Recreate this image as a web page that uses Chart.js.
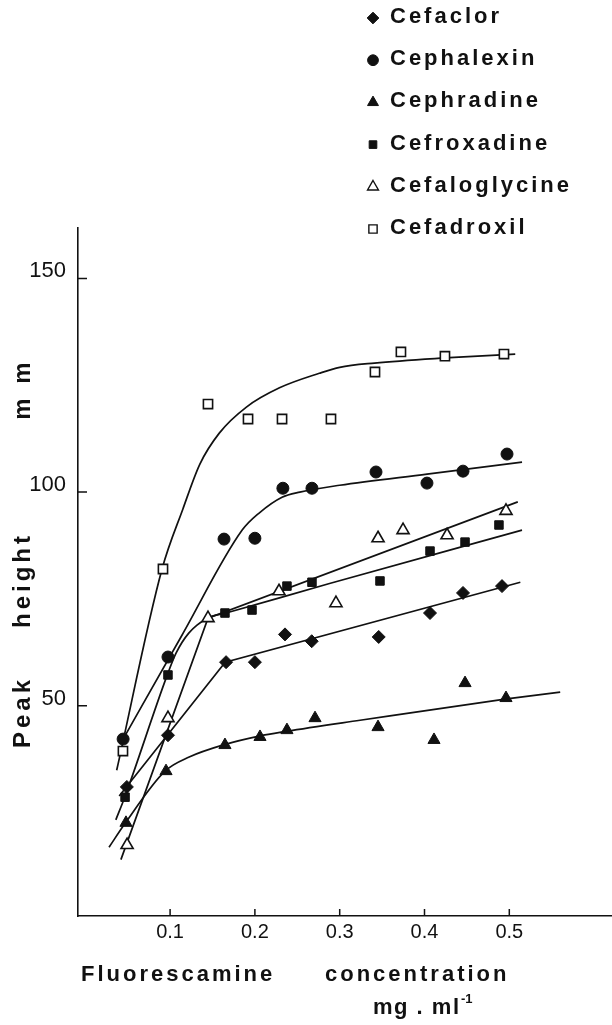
<!DOCTYPE html>
<html>
<head>
<meta charset="utf-8">
<script src="https://cdn.jsdelivr.net/npm/chart.js@4/dist/chart.umd.min.js"></script>
<style>
  html, body { margin: 0; padding: 0; background: #fff; }
  #wrap { width: 612px; height: 1025px; }
</style>
</head>
<body>
<div id="wrap"><canvas id="chart" width="612" height="1025"></canvas></div>
<script>
// series names, as in the legend
const seriesNames = ['Cefaclor', 'Cephalexin', 'Cephradine', 'Cefroxadine', 'Cefaloglycine', 'Cefadroxil'];

// measured points (x = fluorescamine mg/ml, y = peak height mm)
const cefaclorX = [0.049, 0.0975, 0.166, 0.200, 0.2355, 0.267, 0.346, 0.4065, 0.4454, 0.4914];
const cefaclorY = [31.0, 43.1, 60.2, 60.2, 66.7, 65.1, 66.1, 71.7, 76.4, 78.0];
const cephalexinX = [0.0446, 0.0975, 0.1636, 0.200, 0.233, 0.2673, 0.3428, 0.4029, 0.4454, 0.4973];
const cephalexinY = [42.2, 61.4, 89.0, 89.2, 100.9, 100.9, 104.7, 102.1, 104.9, 108.9];
const cephradineX = [0.048, 0.0952, 0.1647, 0.206, 0.2378, 0.2709, 0.3452, 0.4112, 0.4478, 0.4961];
const cephradineY = [22.6, 34.7, 40.8, 42.7, 44.3, 47.1, 45.0, 42.0, 55.3, 51.8];
const cefroxadineX = [0.0469, 0.0975, 0.1647, 0.1966, 0.2378, 0.2673, 0.3475, 0.4065, 0.4478, 0.4878];
const cefroxadineY = [28.6, 57.2, 71.7, 72.4, 78.0, 78.9, 79.2, 86.2, 88.3, 92.3];
const cefaloglycineX = [0.0493, 0.0975, 0.1447, 0.2284, 0.2956, 0.3452, 0.3747, 0.4266, 0.4961];
const cefaloglycineY = [17.4, 47.1, 70.5, 76.8, 74.0, 89.2, 91.1, 89.9, 95.6];
const cefadroxilX = [0.0444, 0.0916, 0.1447, 0.1919, 0.232, 0.2897, 0.3416, 0.3722, 0.4241, 0.4937];
const cefadroxilY = [39.4, 82.0, 120.6, 117.1, 117.1, 117.1, 128.1, 132.8, 131.8, 132.3];

// hand drawn fit curves
const cefaclorFitX = [0.040, 0.165, 0.513];
const cefaclorFitY = [28.9, 60.2, 78.9];
const cephalexinFitX = [0.0446, 0.114, 0.185, 0.205, 0.232, 0.253, 0.300, 0.403, 0.515];
const cephalexinFitY = [42.2, 66.5, 91.1, 95.1, 98.8, 100.0, 101.6, 104.2, 107.0];
const cephradineFitX = [0.028, 0.047, 0.094, 0.1225, 0.164, 0.205, 0.237, 0.324, 0.497, 0.560];
const cephradineFitY = [16.9, 22.5, 34.7, 38.0, 40.9, 42.9, 44.0, 46.6, 51.6, 53.2];
const cefroxadineFitX = [0.036, 0.0465, 0.0965, 0.107, 0.122, 0.144, 0.166, 0.288, 0.515];
const cefroxadineFitY = [23.3, 28.6, 57.1, 62.3, 67.0, 70.5, 71.7, 78.6, 91.1];
const cefaloglycineFitX = [0.042, 0.1447, 0.510];
const cefaloglycineFitY = [14.0, 70.5, 97.7];
const cefadroxilFitX = [0.037, 0.0905, 0.115, 0.135, 0.158, 0.190, 0.229, 0.276, 0.300, 0.341, 0.424, 0.507];
const cefadroxilFitY = [34.9, 82.0, 96.0, 106.5, 113.8, 119.9, 124.4, 127.8, 129.2, 130.2, 131.4, 132.3];

const xTicks = [0.1, 0.2, 0.3, 0.4, 0.5];
const yTicks = [50, 100, 150];

const INK = '#111';
const pts = (xs, ys) => xs.map((x, i) => ({ x: x, y: ys[i] }));

const markers = [
    { style: 'rectRot', radius: 6.5, fill: INK },
    { style: 'circle', radius: 6, fill: INK },
    { style: 'triangle', radius: 7, fill: INK },
    { style: 'rect', radius: 6, fill: INK },
    { style: 'triangle', radius: 7, fill: '#fff' },
    { style: 'rect', radius: 6.5, fill: '#fff' }
];

const pointSets = [
    pts(cefaclorX, cefaclorY), pts(cephalexinX, cephalexinY), pts(cephradineX, cephradineY),
    pts(cefroxadineX, cefroxadineY), pts(cefaloglycineX, cefaloglycineY), pts(cefadroxilX, cefadroxilY)
];
const fitSets = [
    { data: pts(cefaclorFitX, cefaclorFitY), smooth: false },
    { data: pts(cephalexinFitX, cephalexinFitY), smooth: true },
    { data: pts(cephradineFitX, cephradineFitY), smooth: true },
    { data: pts(cefroxadineFitX, cefroxadineFitY), smooth: true },
    { data: pts(cefaloglycineFitX, cefaloglycineFitY), smooth: false },
    { data: pts(cefadroxilFitX, cefadroxilFitY), smooth: true }
];

const datasets = [];
fitSets.forEach((f, i) => {
    datasets.push({
        label: seriesNames[i] + ' fit',
        data: f.data,
        showLine: true,
        pointRadius: 0,
        borderColor: INK,
        borderWidth: 1.7,
        tension: 0,
        cubicInterpolationMode: f.smooth ? 'monotone' : 'default',
        order: 2
    });
});
pointSets.forEach((p, i) => {
    const m = markers[i];
    datasets.push({
        label: seriesNames[i],
        data: p,
        showLine: false,
        pointStyle: m.style,
        pointRadius: m.radius,
        pointBackgroundColor: m.fill,
        pointBorderColor: INK,
        pointBorderWidth: m.fill === INK ? 1 : 1.6,
        order: 1
    });
});

// axis tick marks point inwards, drawn by hand on the library's scales
const tickMarks = {
    id: 'tickMarks',
    afterDraw(chart) {
        const { ctx, chartArea, scales } = chart;
        ctx.save();
        ctx.strokeStyle = INK;
        ctx.lineWidth = 1.5;
        ctx.beginPath();
        yTicks.forEach(v => {
            const y = scales.y.getPixelForValue(v);
            ctx.moveTo(chartArea.left, y);
            ctx.lineTo(chartArea.left + 9, y);
        });
        xTicks.forEach(v => {
            const x = scales.x.getPixelForValue(v);
            ctx.moveTo(x, chartArea.bottom);
            ctx.lineTo(x, chartArea.bottom - 7);
        });
        ctx.stroke();
        ctx.restore();
    }
};

// legend in the top right corner and the axis titles
const annotations = {
    id: 'annotations',
    afterDraw(chart) {
        const ctx = chart.ctx;
        ctx.save();
        ctx.fillStyle = INK;
        ctx.textBaseline = 'middle';
        ctx.font = 'bold 22px "Liberation Sans", Arial, sans-serif';
        ctx.letterSpacing = '3px';

        seriesNames.forEach((name, i) => {
            const y = 17 + i * 42.2;
            const m = markers[i];
            ctx.fillStyle = m.fill;
            ctx.strokeStyle = INK;
            ctx.lineWidth = m.fill === INK ? 1 : 1.4;
            Chart.helpers.drawPoint(ctx, { pointStyle: m.style, radius: m.radius * 0.9, rotation: 0, borderWidth: ctx.lineWidth }, 373, y + 1);
            ctx.fillStyle = INK;
            ctx.textAlign = 'left';
            ctx.fillText(name, 390, y);
        });

        // x title
        ctx.textAlign = 'left';
        ctx.fillText('Fluorescamine', 81, 975);
        ctx.fillText('concentration', 325, 975);
        ctx.letterSpacing = '1.5px';
        ctx.fillText('mg . ml', 373, 1008);
        ctx.font = 'bold 13px "Liberation Sans", Arial, sans-serif';
        ctx.letterSpacing = '0px';
        ctx.fillText('-1', 461, 999);

        // y title, rotated
        ctx.font = 'bold 24px "Liberation Sans", Arial, sans-serif';
        ctx.letterSpacing = '4px';
        ctx.textAlign = 'center';
        [['Peak', 712], ['height', 580], ['m m', 389]].forEach(([word, y]) => {
            ctx.save();
            ctx.translate(23, y);
            ctx.rotate(-Math.PI / 2);
            ctx.fillText(word, 0, 0);
            ctx.restore();
        });
        ctx.restore();
    }
};

const tickFont = { family: '"Liberation Sans", Arial, sans-serif', size: 20 };

new Chart(document.getElementById('chart'), {
    type: 'scatter',
    data: { datasets },
    options: {
        responsive: false,
        animation: false,
        layout: { autoPadding: false, padding: { top: 228, right: 0, bottom: 0, left: 0 } },
        plugins: { legend: { display: false }, tooltip: { enabled: false } },
        scales: {
            x: {
                type: 'linear',
                min: -0.0086,
                max: 0.6211,
                grid: { display: false, drawTicks: false },
                border: { display: true, color: INK, width: 1.6 },
                ticks: {
                    color: INK,
                    font: { ...tickFont, size: 20 },
                    padding: 4,
                    maxRotation: 0,
                    callback: v => v.toFixed(1)
                },
                afterBuildTicks: s => { s.ticks = xTicks.map(v => ({ value: v })); },
                afterFit: s => { s.height = 109; }
            },
            y: {
                type: 'linear',
                min: 0.8,
                max: 161.8,
                grid: { display: false, drawTicks: false },
                border: { display: true, color: INK, width: 1.6 },
                ticks: {
                    color: INK,
                    font: { ...tickFont, size: 22 },
                    padding: 12,
                    labelOffset: -7
                },
                afterBuildTicks: s => { s.ticks = yTicks.map(v => ({ value: v })); },
                afterFit: s => { s.width = 78; }
            }
        }
    },
    plugins: [tickMarks, annotations]
});
</script>
</body>
</html>
